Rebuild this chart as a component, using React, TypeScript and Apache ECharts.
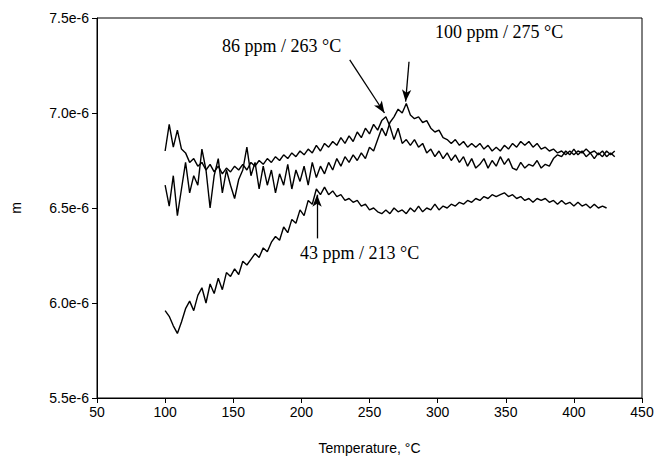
import React, { useEffect, useRef } from "react";
import * as echarts from "echarts";

const temps = [
  100, 103, 106, 109, 112, 115, 118, 121, 124, 127,
  130, 133, 136, 139, 142, 145, 148, 151, 154, 157,
  160, 163, 166, 169, 172, 175, 178, 181, 184, 187,
  190, 193, 196, 199, 202, 205, 208, 211, 214, 217,
  220, 223, 226, 229, 232, 235, 238, 241, 244, 247,
  250, 253, 256, 259, 262, 265, 268, 271, 274, 277,
  280, 283, 286, 289, 292, 295, 298, 301, 304, 307,
  310, 313, 316, 319, 322, 325, 328, 331, 334, 337,
  340, 343, 346, 349, 352, 355, 358, 361, 364, 367,
  370, 373, 376, 379, 382, 385, 388, 391, 394, 397,
  400, 403, 406, 409, 412, 415, 418, 421, 424, 427, 430,
];

// values in units of 1e-6
const ppm43 = [
  5.96, 5.93, 5.88, 5.84, 5.90, 5.97, 6.01, 5.96, 6.04, 6.08,
  6.00, 6.10, 6.05, 6.13, 6.07, 6.16, 6.14, 6.18, 6.15, 6.22,
  6.20, 6.23, 6.26, 6.24, 6.29, 6.27, 6.32, 6.35, 6.33, 6.40,
  6.37, 6.44, 6.42, 6.49, 6.46, 6.54, 6.52, 6.60, 6.57, 6.61,
  6.57, 6.59, 6.56, 6.57, 6.54, 6.55, 6.53, 6.54, 6.51, 6.52,
  6.49, 6.50, 6.48, 6.47, 6.49, 6.47, 6.50, 6.48, 6.49, 6.47,
  6.50, 6.48, 6.51, 6.48, 6.50, 6.49, 6.52, 6.49, 6.51, 6.50,
  6.52, 6.51, 6.53, 6.52, 6.54, 6.53, 6.55, 6.54, 6.56, 6.55,
  6.57, 6.56, 6.57, 6.58, 6.56, 6.57, 6.55, 6.56, 6.54, 6.55,
  6.53, 6.55, 6.54, 6.55, 6.53, 6.54, 6.52, 6.54, 6.52, 6.53,
  6.51, 6.53, 6.51, 6.52, 6.50, 6.52, 6.50, 6.51, 6.50,
];

const ppm100 = [
  6.62, 6.51, 6.67, 6.46, 6.60, 6.74, 6.58, 6.67, 6.62, 6.81,
  6.70, 6.50, 6.67, 6.76, 6.58, 6.70, 6.62, 6.55, 6.65, 6.70,
  6.82, 6.67, 6.74, 6.60, 6.72, 6.62, 6.70, 6.58, 6.68, 6.62,
  6.73, 6.60, 6.70, 6.64, 6.72, 6.62, 6.74, 6.66, 6.72, 6.68,
  6.74, 6.70, 6.76, 6.72, 6.77, 6.74, 6.78, 6.75, 6.79, 6.76,
  6.82, 6.80, 6.86, 6.92, 6.88, 6.95, 6.98, 7.02, 7.00, 7.05,
  6.99, 6.97, 6.98, 6.95, 6.96, 6.92, 6.90, 6.91, 6.87, 6.86,
  6.84, 6.86, 6.83, 6.85, 6.82, 6.84, 6.82, 6.84, 6.81, 6.83,
  6.80, 6.82, 6.80, 6.83, 6.81, 6.84, 6.82, 6.85, 6.83, 6.85,
  6.82, 6.84, 6.81, 6.82, 6.80, 6.81, 6.79, 6.80, 6.78, 6.80,
  6.78, 6.80, 6.79, 6.81, 6.79, 6.80, 6.78, 6.80, 6.77, 6.79, 6.77,
];

const ppm86 = [
  6.80, 6.94, 6.82, 6.91, 6.81, 6.79, 6.74, 6.76, 6.72, 6.74,
  6.70, 6.73, 6.69, 6.72, 6.68, 6.71, 6.69, 6.72, 6.70, 6.73,
  6.70, 6.74, 6.72, 6.75, 6.73, 6.76, 6.74, 6.77, 6.75, 6.78,
  6.76, 6.79, 6.77, 6.80, 6.78, 6.81, 6.79, 6.83, 6.80, 6.84,
  6.82, 6.85, 6.83, 6.87, 6.84, 6.88, 6.85, 6.90, 6.87, 6.92,
  6.89, 6.94, 6.91, 6.96, 6.98, 6.93, 6.86, 6.92, 6.84, 6.86,
  6.83, 6.86, 6.82, 6.84, 6.79, 6.81, 6.77, 6.80, 6.76, 6.79,
  6.75, 6.78, 6.74, 6.77, 6.72, 6.76, 6.71, 6.73, 6.76, 6.71,
  6.75, 6.72, 6.77, 6.73, 6.76, 6.71, 6.70, 6.74, 6.71, 6.73,
  6.72, 6.75, 6.71, 6.73, 6.72, 6.76, 6.78, 6.77, 6.80, 6.78,
  6.81, 6.78, 6.80, 6.77, 6.79, 6.76, 6.79, 6.77, 6.80, 6.78, 6.80,
];

const yTicks = [5.5, 6.0, 6.5, 7.0, 7.5];

// annotation arrows: [startT, startV, tipT, tipV]
const arrow86 = [235.5, 7.28, 261, 7.0];
const arrow100 = [279, 7.27, 276.5, 7.06];
const arrow43 = [211.5, 6.34, 211.5, 6.57];

const labels = [
  { text: "86 ppm / 263 °C", x: 222, y: 46 },
  { text: "100 ppm / 275 °C", x: 435, y: 32 },
  { text: "43 ppm / 213 °C", x: 300, y: 253 },
];

function pairs(vals: number[]) {
  return vals.map((v, i) => [temps[i], v]);
}

function arrowLine(a: number[]) {
  return [
    { coord: [a[0], a[1]], symbol: "none" },
    { coord: [a[2], a[3]], symbol: "arrow", symbolSize: [7, 12] },
  ];
}

export default function App() {
  const ref = useRef<HTMLDivElement>(null);
  useEffect(() => {
    if (!ref.current) return;
    const chart = echarts.init(ref.current, undefined, { renderer: "svg" });
    const lineStyle = { color: "#000", width: 1.4 };
    const mk = (a: number[]) => ({
      silent: true,
      label: { show: false },
      lineStyle: { color: "#000", width: 1.3, type: "solid" },
      data: [arrowLine(a)],
    });
    chart.setOption({
      animation: false,
      backgroundColor: "#fff",
      grid: {
        left: 97,
        right: 24,
        top: 18,
        bottom: 60,
        show: true,
        borderColor: "#000",
        borderWidth: 1,
      },
      xAxis: {
        type: "value",
        min: 50,
        max: 450,
        interval: 50,
        name: "Temperature, °C",
        nameLocation: "middle",
        nameGap: 43,
        nameTextStyle: { fontFamily: "Liberation Sans", fontSize: 14, color: "#000" },
        axisLine: { show: true, lineStyle: { color: "#000", width: 1 } },
        axisTick: { show: true, inside: false, length: 5, lineStyle: { color: "#000" } },
        axisLabel: { fontFamily: "Liberation Sans", fontSize: 14, color: "#000", margin: 7 },
        splitLine: { show: false },
      },
      yAxis: {
        type: "value",
        min: yTicks[0],
        max: yTicks[yTicks.length - 1],
        interval: 0.5,
        name: "m",
        nameLocation: "middle",
        nameRotate: 90,
        nameGap: 74,
        nameTextStyle: { fontFamily: "Liberation Sans", fontSize: 14, color: "#000" },
        axisLine: { show: true, lineStyle: { color: "#000", width: 1 } },
        axisTick: { show: true, inside: false, length: 5, lineStyle: { color: "#000" } },
        axisLabel: {
          fontFamily: "Liberation Sans",
          fontSize: 14,
          color: "#000",
          margin: 8,
          formatter: (v: number) => v.toFixed(1) + "e-6",
        },
        splitLine: { show: false },
      },
      series: [
        {
          name: "43 ppm",
          type: "line",
          data: pairs(ppm43),
          showSymbol: false,
          lineStyle,
          markLine: mk(arrow43),
        },
        {
          name: "86 ppm",
          type: "line",
          data: pairs(ppm86),
          showSymbol: false,
          lineStyle,
          markLine: mk(arrow86),
        },
        {
          name: "100 ppm",
          type: "line",
          data: pairs(ppm100),
          showSymbol: false,
          lineStyle,
          markLine: mk(arrow100),
        },
      ],
      graphic: labels.map((l) => ({
        type: "text",
        x: l.x,
        y: l.y,
        style: {
          text: l.text,
          fontFamily: "Liberation Serif",
          fontSize: 18,
          fill: "#000",
          textAlign: "left",
          textVerticalAlign: "middle",
        },
      })),
    });
    return () => chart.dispose();
  }, []);
  return <div ref={ref} style={{ width: 666, height: 460, position: "absolute", left: 0, top: 0 }} />;
}
